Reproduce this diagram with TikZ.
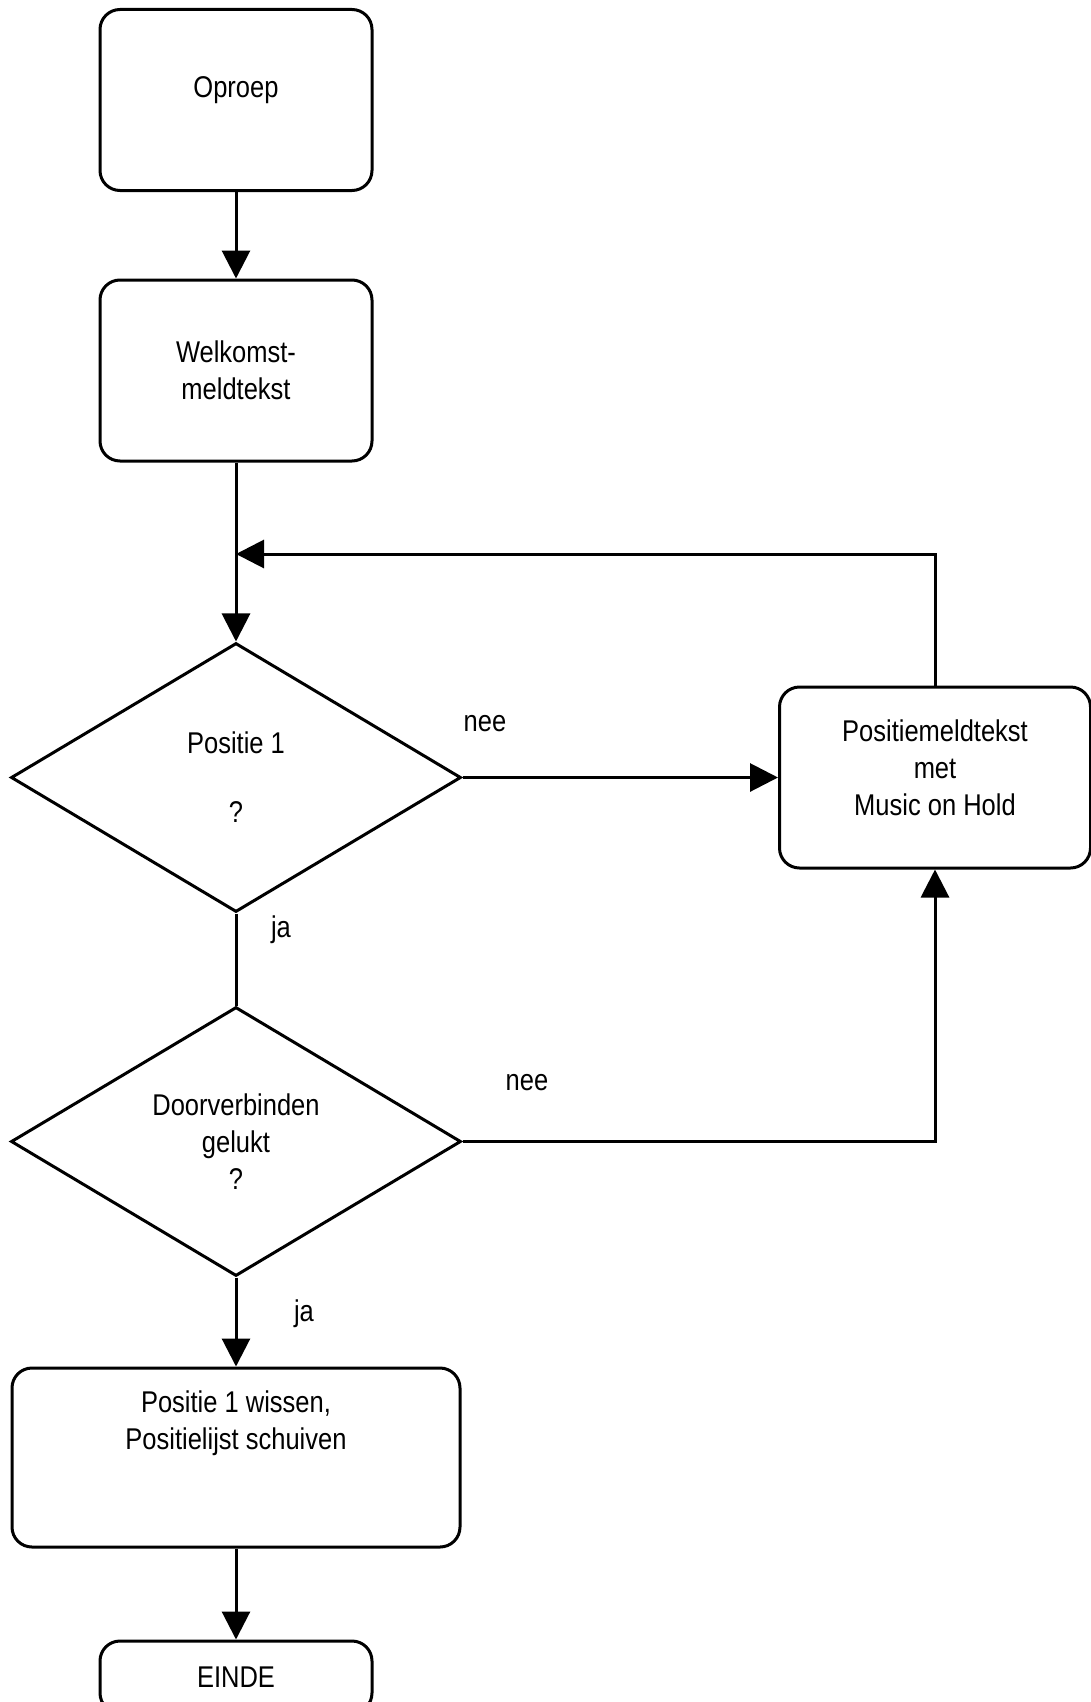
\documentclass[tikz,border=0pt]{standalone}
\usepackage{fontspec}
\setmainfont{Liberation Sans}[FakeStretch=0.85]
\usetikzlibrary{shapes.geometric,arrows.meta}
\begin{document}
\begin{tikzpicture}[x=1pt,y=-1pt]
% Stijlen
\tikzstyle{pijl}=[-{Triangle[length=28pt,width=28pt]},line width=3pt]
\tikzstyle{lijn}=[line width=3pt]
\tikzstyle{blok}=[draw,line width=3pt,rounded corners=20pt,align=center,inner sep=0pt,font=\fontsize{30}{37}\selectfont]
\tikzstyle{vraag}=[draw,diamond,line width=3pt,align=center,inner sep=0pt,minimum width=450pt,minimum height=269pt,font=\fontsize{30}{37}\selectfont]
\tikzstyle{tekst}=[inner sep=0pt,font=\fontsize{30}{37}\selectfont]
% Afmetingen
\def\BlokBreedte{272pt}
\def\BlokHoogte{181pt}
\def\Midden{236}
\def\Rechts{935}
% Kader
\useasboundingbox (0,0) rectangle (1091,1702);
% Knopen
\node[blok,minimum width=\BlokBreedte,minimum height=\BlokHoogte] (oproep) at (\Midden,100) {Oproep\\[-11pt]~};
\node[blok,minimum width=\BlokBreedte,minimum height=\BlokHoogte] (welkom) at (\Midden,370.5) {Welkomst-\\meldtekst};
\coordinate (samen) at (\Midden,554);
\node[vraag] (positie) at (\Midden,777.5) {Positie 1\\[32pt]?};
\node[blok,minimum width=311pt,minimum height=\BlokHoogte] (melding) at (\Rechts,777.5) {Positiemeldtekst\\met\\Music on Hold\\[-17pt]~};
\node[vraag] (door) at (\Midden,1141.5) {Doorverbinden\\gelukt\\?};
\node[blok,minimum width=448pt,minimum height=179pt] (wissen) at (\Midden,1457.5) {Positie 1 wissen,\\Positielijst schuiven\\~\\~};
\node[blok,minimum width=\BlokBreedte,minimum height=72pt] (einde) at (\Midden,1677) {EINDE};
\node[tekst] (nee1) at (485,724) {nee};
\node[tekst] (ja1) at (281,930) {ja};
\node[tekst] (nee2) at (527,1083) {nee};
\node[tekst] (ja2) at (304,1314) {ja};
% Pijlen
\draw[pijl] (oproep)--(welkom);
\draw[pijl] (welkom)--(positie);
\draw[pijl] (positie.east)--(melding.west);
\draw[pijl] (melding.north)|-(samen);
\draw[lijn] (positie.south)--(door.north);
\draw[pijl] (door.east)-|(melding.south);
\draw[pijl] (door)--(wissen);
\draw[pijl] (wissen)--(einde);
\end{tikzpicture}
\end{document}
